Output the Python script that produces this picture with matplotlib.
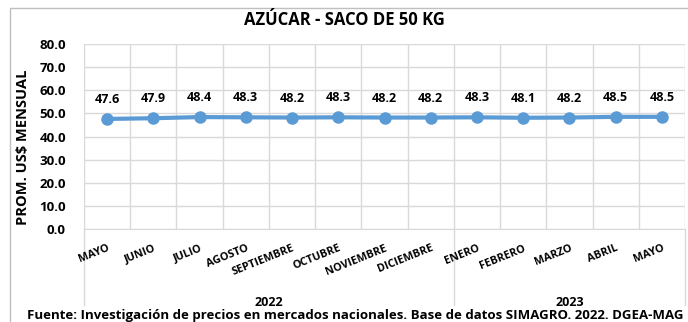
import matplotlib.pyplot as plt
from matplotlib.patches import Rectangle
import numpy as np

plt.rcParams['font.family'] = ['Open Sans', 'DejaVu Sans']
plt.rcParams['font.weight'] = 'bold'
plt.rcParams['axes.labelweight'] = 'bold'

months = ['MAYO', 'JUNIO', 'JULIO', 'AGOSTO', 'SEPTIEMBRE', 'OCTUBRE', 'NOVIEMBRE',
          'DICIEMBRE', 'ENERO', 'FEBRERO', 'MARZO', 'ABRIL', 'MAYO']
years = ['2022', '2023']
year_counts = [8, 5]
prices = [47.6, 47.9, 48.4, 48.3, 48.2, 48.3, 48.2, 48.2, 48.3, 48.1, 48.2, 48.5, 48.5]

blue = '#5B9BD5'
grid = '#D9D9D9'

fig = plt.figure(figsize=(6.88, 3.22), dpi=100)
W, H = 688.0, 322.0

# outer chart frame (right and bottom edges run off the image)
fig.patches.append(Rectangle((10 / W, -0.1), 0.99, 1.1 - 8 / H, transform=fig.transFigure,
                             fill=False, edgecolor='#BFBFBF', linewidth=1))

ax = fig.add_axes([84 / W, 1 - 229 / H, 601 / W, 185 / H])
x = np.arange(len(prices))
ax.plot(x, prices, color=blue, linewidth=3, marker='o', markersize=8, zorder=3)
for xi, v in zip(x, prices):
    ax.annotate('%.1f' % v, (xi, v), xytext=(0, 14), textcoords='offset points',
                ha='center', va='center', fontsize=9, fontweight='bold')

ax.set_xlim(-0.5, len(prices) - 0.5)
ax.set_ylim(0, 80)
ax.set_yticks(np.arange(0, 81, 10))
ax.set_yticklabels(['%.1f' % t for t in np.arange(0, 81, 10)], fontsize=9.5, fontweight='bold')
ax.set_xticks(np.arange(-0.5, len(prices), 1), minor=False)
ax.set_xticklabels([])
ax.tick_params(length=0, pad=13)
ax.grid(True, color=grid, linewidth=1)
ax.set_axisbelow(True)
for s in ['top', 'right', 'left']:
    ax.spines[s].set_visible(False)
ax.spines['bottom'].set_color(grid)

# month labels
for xi, m in zip(x, months):
    ax.text(xi, -0.075, m, transform=ax.get_xaxis_transform(), rotation=22,
            rotation_mode='anchor', ha='right', va='top', fontsize=7.8, fontweight='bold')

# year level with separators
start = 0
bounds = [-0.5]
for yr, n in zip(years, year_counts):
    ax.text(start + (n - 1) / 2, -0.4, yr, transform=ax.get_xaxis_transform(),
            ha='center', va='center', fontsize=9, fontweight='bold')
    start += n
    bounds.append(start - 0.5)
for b in bounds:
    ax.plot([b, b], [0, -0.41], transform=ax.get_xaxis_transform(), color=grid,
            linewidth=1, clip_on=False)

ax.set_ylabel('PROM. US$ MENSUAL', fontsize=10.5, fontweight='bold')
ax.yaxis.set_label_coords(-0.09, 0.44)

fig.text(344 / W, 1 - 20 / H, 'AZÚCAR - SACO DE 50 KG', ha='center', va='center',
         fontsize=12, fontweight='bold')
fig.text(355 / W, 1 - 315 / H,
         'Fuente: Investigación de precios en mercados nacionales. Base de datos SIMAGRO. 2022. DGEA-MAG',
         ha='center', va='center', fontsize=9.5, fontweight='bold')

fig.savefig('out.png', dpi=100)
